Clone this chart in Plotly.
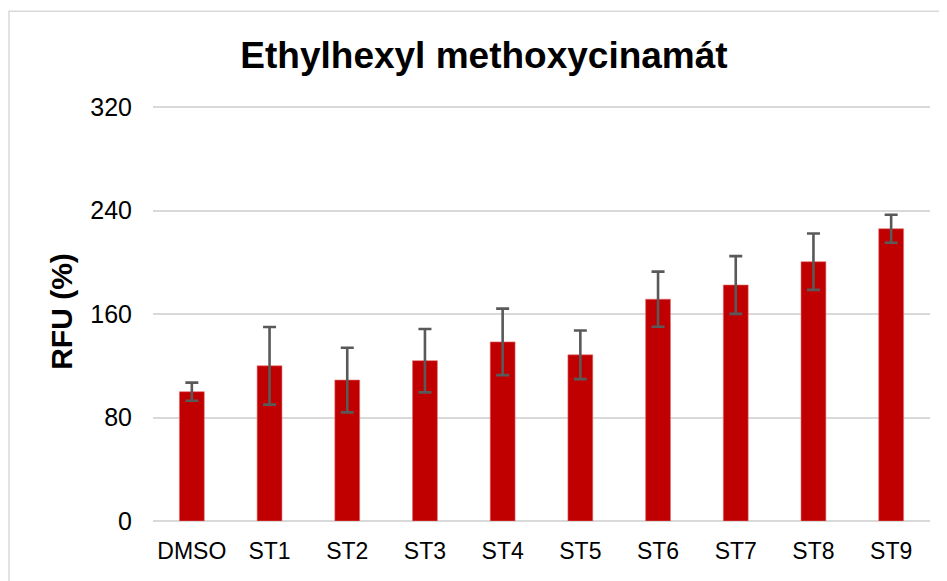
import plotly.graph_objects as go

categories = ["DMSO", "ST1", "ST2", "ST3", "ST4", "ST5", "ST6", "ST7", "ST8", "ST9"]
values = [100, 120, 109, 124, 138.5, 128.5, 171.5, 182.5, 200.5, 226]
errors = [7, 30, 25, 24.5, 25.7, 18.8, 21.3, 22.3, 21.8, 10.8]
yticks = [0, 80, 160, 240, 320]

W, H = 947, 581
OFF = 8  # page body margin offset
YMAX = 324
# target screen positions of plot area
SX0, SX1, Y320, SY1 = 153, 930, 107, 521.5
unit = (SY1 - Y320) / 320
SY0 = SY1 - YMAX * unit
L = SX0 - OFF
R = W - (SX1 - OFF)
T = SY0 - OFF
B = H - (SY1 - OFF)
pw = SX1 - SX0
ph = SY1 - SY0


def px(xs):
    return (xs - SX0) / pw


def py(ys):
    return (SY1 - ys) / ph


fig = go.Figure()
fig.add_trace(go.Bar(
    x=categories, y=values,
    marker=dict(color="#C00000", line=dict(color="#E07070", width=0.6)),
    error_y=dict(type="data", array=errors, visible=True,
                 color="#595959", thickness=2.6, width=6.5),
    width=0.32,
))

fig.update_layout(
    width=W, height=H,
    margin=dict(l=L, r=R, t=T, b=B, autoexpand=False),
    paper_bgcolor="white", plot_bgcolor="white",
    showlegend=False,
    title=dict(text="<b>Ethylhexyl methoxycinamát</b>",
               font=dict(family="Liberation Sans, Arial, sans-serif", size=37, color="#000000"),
               x=(484 - OFF) / W, xanchor="center", xref="container",
               y=1 - (55 - OFF) / H, yanchor="middle", yref="container"),
    xaxis=dict(showgrid=False, zeroline=False, showline=False, ticks="",
               tickfont=dict(family="Liberation Sans, Arial, sans-serif",
                             size=23, color="#000000"),
               ticklabelstandoff=14),
    yaxis=dict(range=[0, YMAX], tickvals=yticks, ticktext=[str(v) for v in yticks],
               showgrid=True, gridcolor="#D9D9D9", gridwidth=2,
               zeroline=True, zerolinecolor="#D9D9D9", zerolinewidth=2,
               showline=False, ticks="",
               tickfont=dict(family="Liberation Sans, Arial, sans-serif", size=25, color="#000000"),
               ticklabelstandoff=20),
    shapes=[dict(type="rect", xref="paper", yref="paper",
                 x0=px(9), x1=px(W + 30),
                 y0=py(H + 30), y1=py(11),
                 line=dict(color="#D9D9D9", width=1.5), fillcolor="rgba(0,0,0,0)", layer="below")],
    annotations=[dict(text="<b>RFU (%)</b>", textangle=-90,
                      xref="paper", yref="paper",
                      x=px(62), y=py(312),
                      xanchor="center", yanchor="middle", showarrow=False,
                      font=dict(family="Liberation Sans, Arial, sans-serif", size=30, color="#000000"))],
)

fig.write_html("out.html")
